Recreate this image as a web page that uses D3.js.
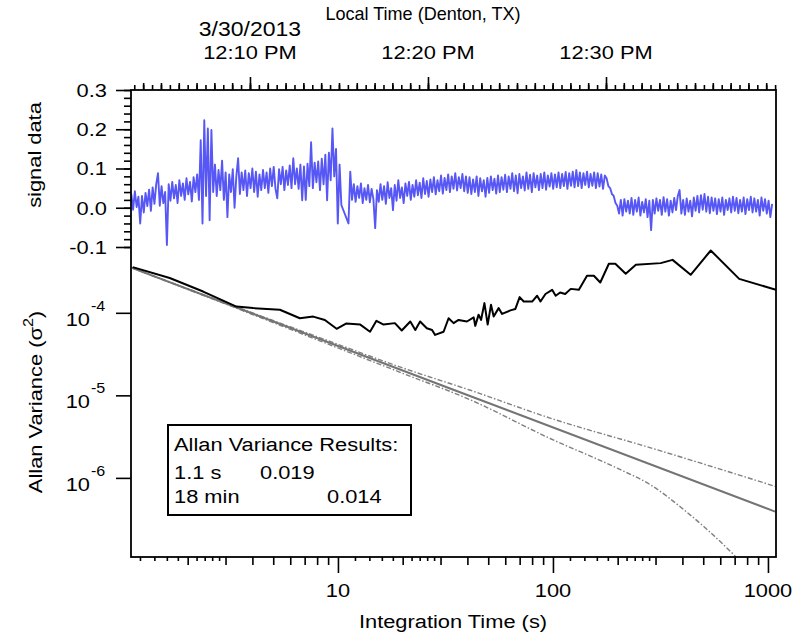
<!DOCTYPE html>
<html><head><meta charset="utf-8">
<script src="https://cdn.jsdelivr.net/npm/d3@7"></script>
<style>body{margin:0;background:#fff} text{font-family:"Liberation Sans",Arial,sans-serif;fill:#000}</style>
</head><body><svg id="c" width="809" height="641"></svg>
<script>
// ---------------- DATA ----------------
const signalStart = "2013-03-30 12:03:20";
const signalStepSec = 6;
const signalValues = [
0.035,-0.005,0.042,0.002,0.028,-0.040,0.030,-0.012,0.038,0.004,
0.046,-0.008,0.052,0.010,0.060,0.088,0.005,0.055,0.012,0.040,
-0.095,0.060,0.018,0.066,0.024,0.058,0.012,0.070,0.030,0.062,
0.020,0.075,0.034,0.066,0.016,0.078,0.040,0.085,0.020,0.172,
-0.040,0.223,0.030,0.202,-0.032,0.198,0.040,0.110,0.030,0.096,
0.045,0.120,0.020,0.090,-0.024,0.085,0.040,0.098,0.000,0.080,
0.126,0.035,0.090,0.045,0.095,0.030,0.088,0.050,0.100,0.040,
0.092,0.028,0.085,0.045,0.096,0.050,0.090,0.038,0.100,0.055,
0.104,0.048,0.024,0.098,0.060,0.104,0.045,0.095,0.058,0.108,
0.050,0.126,0.060,0.100,0.048,0.110,0.019,0.105,0.020,0.112,
0.055,0.167,0.050,0.115,0.065,0.118,0.045,0.125,0.060,0.135,
0.019,0.140,0.070,0.202,0.080,0.150,-0.040,0.110,0.007,null,
null,null,-0.040,0.092,0.020,0.060,0.015,0.055,0.025,0.062,
0.012,0.050,0.020,0.058,0.014,0.048,0.022,-0.052,0.045,0.015,
0.060,0.020,0.055,0.010,0.065,0.025,0.050,-0.006,0.058,0.018,
0.070,0.025,0.052,0.012,0.062,0.030,0.066,0.020,0.058,0.028,
0.070,0.032,0.064,0.025,0.075,0.035,0.068,0.028,0.072,0.040,
0.078,0.034,0.070,0.042,0.082,0.036,0.076,0.045,0.085,0.040,
0.080,0.048,0.088,0.044,0.078,0.050,0.086,0.042,0.080,0.038,
0.078,0.035,0.072,0.040,0.080,0.030,0.075,0.042,0.070,0.028,
0.076,0.038,0.080,0.045,0.074,0.036,0.082,0.040,0.078,0.046,
0.084,0.040,0.080,0.048,0.088,0.042,0.082,0.037,0.086,0.050,
0.080,0.044,0.090,0.048,0.084,0.040,0.088,0.052,0.082,0.045,
0.086,0.050,0.090,0.046,0.082,0.054,0.088,0.048,0.085,0.052,
0.090,0.050,0.086,0.055,0.091,0.048,0.088,0.056,0.092,0.052,
0.096,0.055,0.090,0.050,0.088,0.058,0.092,0.052,0.086,0.056,
0.090,0.050,0.088,0.054,0.085,0.048,0.082,0.075,0.055,0.050,
0.035,0.030,0.012,0.005,-0.015,0.020,-0.020,0.022,-0.010,0.018,
-0.015,0.025,-0.018,0.020,-0.010,0.026,-0.020,0.015,-0.012,0.022,
-0.024,0.018,-0.057,0.020,-0.015,0.024,-0.008,0.020,-0.018,0.027,
-0.010,0.022,-0.020,0.018,-0.012,0.025,-0.006,0.030,0.045,-0.015,
0.020,-0.018,0.024,-0.010,0.018,-0.022,0.026,-0.008,0.030,-0.012,
0.032,-0.005,0.035,-0.010,0.028,-0.014,0.026,-0.008,0.024,-0.016,
0.022,-0.010,0.026,-0.018,0.020,-0.006,0.024,-0.012,0.028,-0.008,
0.025,-0.014,0.020,-0.010,0.026,-0.016,0.022,-0.006,0.028,-0.012,
0.024,-0.010,0.020,-0.020,0.026,-0.008,0.022,-0.015,0.018,-0.024,0.010
];
const timeDomain = ["2013-03-30 12:03:19", "2013-03-30 12:39:33"];
const timeMajorTicks = ["2013-03-30 12:10:00", "2013-03-30 12:20:00", "2013-03-30 12:30:00"];
const timeMajorLabels = ["12:10 PM", "12:20 PM", "12:30 PM"];
const dateLabel = "3/30/2013";
const signalDomain = [-0.1, 0.3];
const signalTicks = [-0.1, 0.0, 0.1, 0.2, 0.3];
const signalTickLabels = ["-0.1", "0.0", "0.1", "0.2", "0.3"];

const avarTau = [1.11,1.65,2.36,3.37,4.03,5.37,6.65,7.67,8.69,9.86,10.9,12.7,14.1,15.1,16.3,18.4,19.8,21.7,22.9,24.1,25.9,27.4,28.3,31.0,32.7,34.5,36.4,39.8,42.8,43.5,45.1,46.3,48.0,49.7,51.5,53.0,55.9,58.0,63.4,66.8,70.0,73.1,80.0,84.4,87.5,92.3,99.1,103,108,114,121,132,144,155,166,182,195,218,243,317,360,437,542,735,1089];
const avarValue = [3.58e-4,2.64e-4,1.81e-4,1.19e-4,1.14e-4,1.09e-4,8.6e-5,9.0e-5,8.2e-5,6.4e-5,7.4e-5,7.2e-5,5.9e-5,8.0e-5,7.2e-5,7.5e-5,6.1e-5,7.85e-5,6.2e-5,7.85e-5,6.5e-5,6.2e-5,5.4e-5,5.9e-5,8.6e-5,7.5e-5,8.2e-5,7.85e-5,8.8e-5,6.95e-5,9.5e-5,8.2e-5,1.31e-4,7.2e-5,1.25e-4,9.0e-5,1.14e-4,9.7e-5,1.07e-4,1.11e-4,1.55e-4,1.37e-4,1.37e-4,1.61e-4,1.37e-4,1.69e-4,1.90e-4,1.61e-4,1.76e-4,1.69e-4,1.95e-4,1.90e-4,2.81e-4,2.81e-4,2.33e-4,3.93e-4,3.93e-4,2.97e-4,3.82e-4,4.0e-4,4.38e-4,2.89e-4,5.69e-4,2.58e-4,1.90e-4];
const whiteTau = [1.1, 33, 1080];
const whiteValue = [3.5e-4, 1.22e-5, 3.9e-7];
const upperTau = [1.1, 3, 10, 20, 41, 97, 285, 1080];
const upperValue = [3.5e-4, 1.32e-4, 4.15e-5, 2.15e-5, 1.16e-5, 5.3e-6, 2.31e-6, 7.9e-7];
const lowerTau = [1.1, 3, 10, 20, 41, 97, 199, 285, 407, 524, 694, 800];
const lowerValue = [3.5e-4, 1.28e-4, 3.75e-5, 1.85e-5, 8.9e-6, 3.0e-6, 1.31e-6, 8.2e-7, 4.1e-7, 2.34e-7, 1.17e-7, 8e-8];

const tauDomain = [1.09, 1090];
const tauMajorTicks = [10, 100, 1000];
const tauLabels = ["10", "100", "1000"];
const varDomain = [1.1e-7, 6.1e-4];
const varTicks = [1e-4, 1e-5, 1e-6];
const varTickExp = ["-4", "-5", "-6"];

const legendTitle = "Allan Variance Results:";
const legendRows = [["1.1 s", "0.019"], ["18 min", "0.014"]];

// ---------------- LAYOUT ----------------
const L = 131, R = 776, T = 90, B = 557;
const SX = 1.15, FS = 19;
const svg = d3.select("#c");
const parse = d3.timeParse("%Y-%m-%d %H:%M:%S");

const xTime = d3.scaleTime().domain(timeDomain.map(parse)).range([L, R]);
const ySig = d3.scaleLinear().domain(signalDomain).range([247, T]);
const xTau = d3.scaleLog().domain(tauDomain).range([L, R]);
const yVar = d3.scaleLog().domain(varDomain).range([B, 248]);

function txt(x, y, str, anchor, rot, size, sx) {
  const t = svg.append("text")
    .attr("transform", `translate(${x},${y})` + (rot ? ` rotate(${rot})` : "") + ` scale(${sx || SX},1)`)
    .attr("text-anchor", anchor || "start")
    .style("font-size", (size || FS) + "px");
  if (str !== null) t.text(str);
  return t;
}

svg.append("clipPath").attr("id", "clipLow").append("rect")
  .attr("x", L).attr("y", 236).attr("width", R - L).attr("height", B - 236);
svg.append("clipPath").attr("id", "clipTop").append("rect")
  .attr("x", L).attr("y", T).attr("width", R - L).attr("height", 200);

// ---- signal line ----
const t0 = parse(signalStart);
const sigPts = signalValues.map((v, i) => ({ t: new Date(t0.getTime() + i * signalStepSec * 1000), v }))
  .filter(d => d.v !== null);
svg.append("path").datum(sigPts)
  .attr("clip-path", "url(#clipTop)")
  .attr("fill", "none").attr("stroke", "#5757f5").attr("stroke-width", 1.9)
  .attr("stroke-linejoin", "round")
  .attr("d", d3.line().x(d => xTime(d.t)).y(d => ySig(d.v)));

// ---- lower lines ----
const gLow = svg.append("g").attr("clip-path", "url(#clipLow)");
const logLine = d3.line().x(d => xTau(d[0])).y(d => yVar(d[1]));
gLow.append("path").datum(upperTau.map((t, i) => [t, upperValue[i]]))
  .attr("fill", "none").attr("stroke", "#808080").attr("stroke-width", 1.4)
  .attr("stroke-dasharray", "5,2,1.5,2").attr("d", d3.line().curve(d3.curveMonotoneX).x(d => xTau(d[0])).y(d => yVar(d[1])));
gLow.append("path").datum(lowerTau.map((t, i) => [t, lowerValue[i]]))
  .attr("fill", "none").attr("stroke", "#808080").attr("stroke-width", 1.4)
  .attr("stroke-dasharray", "5,2,1.5,2").attr("d", d3.line().curve(d3.curveMonotoneX).x(d => xTau(d[0])).y(d => yVar(d[1])));
gLow.append("path").datum(whiteTau.map((t, i) => [t, whiteValue[i]]))
  .attr("fill", "none").attr("stroke", "#747474").attr("stroke-width", 2)
  .attr("d", logLine);
gLow.append("path").datum(avarTau.map((t, i) => [t, avarValue[i]]))
  .attr("fill", "none").attr("stroke", "#000").attr("stroke-width", 2)
  .attr("stroke-linejoin", "round")
  .attr("d", logLine);

// ---- frame ----
svg.append("rect").attr("x", L).attr("y", T).attr("width", R - L).attr("height", B - T)
  .attr("fill", "none").attr("stroke", "#000").attr("stroke-width", 1.8);

function styleAxis(g) {
  g.select(".domain").remove();
  g.selectAll(".tick line").attr("stroke", "#000").attr("stroke-width", 1.6);
  g.selectAll(".tick text").remove();
}

// top time axis
const tMin = d3.timeSecond.every(30).range(xTime.domain()[0], xTime.domain()[1]);
svg.append("g").attr("transform", `translate(0,${T})`)
  .call(d3.axisTop(xTime).tickValues(tMin).tickSize(5)).call(styleAxis);
const tMid = d3.timeMinute.every(1).range(xTime.domain()[0], xTime.domain()[1]);
svg.append("g").attr("transform", `translate(0,${T})`)
  .call(d3.axisTop(xTime).tickValues(tMid).tickSize(7)).call(styleAxis);
svg.append("g").attr("transform", `translate(0,${T})`)
  .call(d3.axisTop(xTime).tickValues(timeMajorTicks.map(parse)).tickSize(13)).call(styleAxis);
timeMajorTicks.forEach((s, i) => txt(xTime(parse(s)), 59, timeMajorLabels[i], "middle"));
txt(xTime(parse(timeMajorTicks[0])), 36, dateLabel, "middle", 0, 20);
txt(423, 20, "Local Time (Denton, TX)", "middle", 0, 19, 0.95);

// left signal axis
svg.append("g").attr("transform", `translate(${L},0)`)
  .call(d3.axisLeft(ySig).tickValues(d3.range(-5, 16).map(k => k * 0.02)).tickSize(7)).call(styleAxis);
svg.append("g").attr("transform", `translate(${L},0)`)
  .call(d3.axisLeft(ySig).tickValues(signalTicks).tickSize(15)).call(styleAxis);
signalTicks.forEach((v, i) => txt(107, ySig(v) + 6.8, signalTickLabels[i], "end"));
txt(41, 155, "signal data", "middle", -90);

// left variance axis
svg.append("g").attr("transform", `translate(${L},0)`)
  .call(d3.axisLeft(yVar).tickValues(varTicks).tickSize(15)).call(styleAxis);
varTicks.forEach((v, i) => {
  txt(90, yVar(v) + 13, "10", "end");
  txt(91, yVar(v) - 2, varTickExp[i], "start", 0, 14);
});
const al = txt(42, 402, null, "middle", -90);
al.append("tspan").text("Allan Variance (σ");
al.append("tspan").attr("dy", -9).style("font-size", "14px").text("2");
al.append("tspan").attr("dy", 9).text(")");

// bottom tau axis
const smallTicks = [], midTicks = [];
[1, 10, 100].forEach(d => {
  [1.2, 1.4, 1.6, 1.8, 2.2, 2.4, 2.6, 2.8].forEach(m => smallTicks.push(m * d));
  [2, 3, 4, 5, 6, 7, 8, 9].forEach(m => midTicks.push(m * d));
});
const inDom = v => v >= tauDomain[0] && v <= tauDomain[1];
svg.append("g").attr("transform", `translate(0,${B})`)
  .call(d3.axisBottom(xTau).tickValues(smallTicks.filter(inDom)).tickSize(4)).call(styleAxis);
svg.append("g").attr("transform", `translate(0,${B})`)
  .call(d3.axisBottom(xTau).tickValues(midTicks.filter(inDom)).tickSize(8)).call(styleAxis);
svg.append("g").attr("transform", `translate(0,${B})`)
  .call(d3.axisBottom(xTau).tickValues(tauMajorTicks).tickSize(16)).call(styleAxis);
tauMajorTicks.forEach((v, i) => txt(xTau(v), 597, tauLabels[i], "middle"));
txt(453, 628, "Integration Time (s)", "middle");

// legend box
svg.append("rect").attr("x", 168).attr("y", 425).attr("width", 243).attr("height", 90)
  .attr("fill", "#fff").attr("stroke", "#000").attr("stroke-width", 2);
txt(174, 451, legendTitle, "start");
txt(174, 479, legendRows[0][0], "start");
txt(260, 479, legendRows[0][1], "start");
txt(174, 503, legendRows[1][0], "start");
txt(327, 503, legendRows[1][1], "start");
</script></body></html>
